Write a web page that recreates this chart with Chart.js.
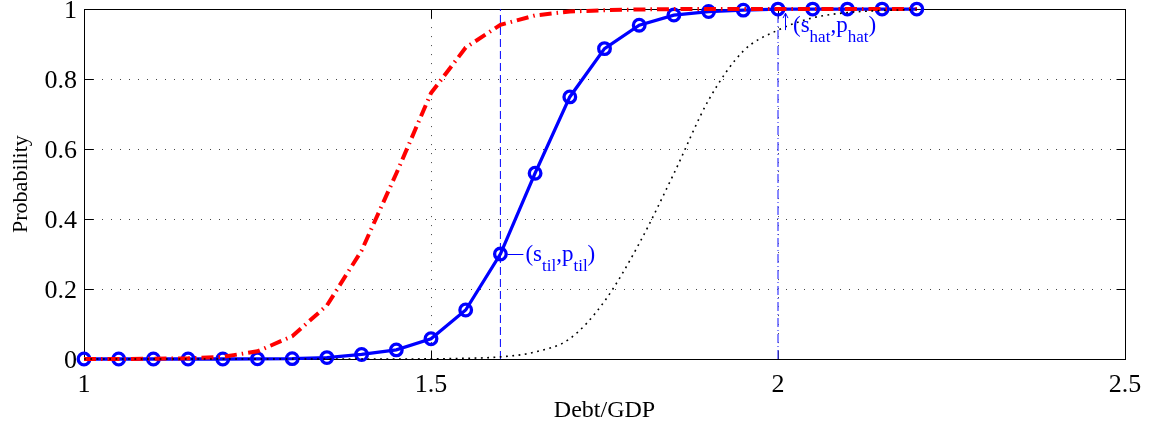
<!DOCTYPE html>
<html>
<head>
<meta charset="utf-8">
<script src="https://cdn.jsdelivr.net/npm/chart.js@4.4.1/dist/chart.umd.min.js"></script>
<style>
  html, body { margin: 0; padding: 0; background: #fff; }
  canvas { display: block; }
</style>
</head>
<body>
<canvas id="chart" width="1151" height="427"></canvas>
<script>
// Debt/GDP grid shared by the three probability curves
const debtRatio = [1.00, 1.05, 1.10, 1.15, 1.20, 1.25, 1.30, 1.35, 1.40, 1.45, 1.50, 1.55, 1.60,
                   1.65, 1.70, 1.75, 1.80, 1.85, 1.90, 1.95, 2.00, 2.05, 2.10, 2.15, 2.20];

// Solid blue curve with circle markers
const probBlue = [0, 0, 0, 0, 0, 0.0005, 0.001, 0.004, 0.013, 0.026, 0.058, 0.14, 0.30,
                  0.531, 0.749, 0.887, 0.954, 0.983, 0.993, 0.997, 1, 1, 1, 1, 1];

// Red dash-dot curve
const probRed = [0, 0, 0.001, 0.002, 0.006, 0.022, 0.065, 0.153, 0.31, 0.53, 0.76, 0.89, 0.955,
                 0.982, 0.993, 0.997, 0.999, 1, 1, 1, 1, 1, 1, 1, 1];

// Black dotted curve
const probBlack = [0, 0, 0, 0, 0, 0, 0, 0, 0, 0, 0.0005, 0.002, 0.006,
                   0.02, 0.058, 0.165, 0.33, 0.53, 0.74, 0.88, 0.94, 0.975, 0.99, 0.996, 0.999];

// Marked points (s, p)
const tilMark = [1.6, 0.3];
const hatMark = [2.0, 1.0];

// Axis ticks
const xTickValues = [1, 1.5, 2, 2.5];
const xTickLabels = ['1', '1.5', '2', '2.5'];
const yTickValues = [0, 0.2, 0.4, 0.6, 0.8, 1];
const yTickLabels = ['0', '0.2', '0.4', '0.6', '0.8', '1'];

const SERIF = '"Liberation Serif", "Times New Roman", serif';
const BLUE = '#0000ff';

const toPoints = (xs, ys) => xs.map((x, i) => ({ x: x, y: ys[i] }));
const vertical = (s) => [{ x: s, y: yTickValues[0] }, { x: s, y: yTickValues[yTickValues.length - 1] }];

// Axes box and inward tick marks, drawn beneath the curves
const framePlugin = {
  id: 'frame',
  beforeDatasetsDraw(chart) {
    const { ctx, chartArea: a, scales: { x, y } } = chart;
    const L = Math.round(a.left) + 0.5, R = Math.round(a.right) + 0.5;
    const T = Math.round(a.top) + 0.5, B = Math.round(a.bottom) + 0.5;
    const len = 9;
    ctx.save();
    ctx.strokeStyle = '#000';
    ctx.lineWidth = 1;
    ctx.strokeRect(L, T, R - L, B - T);
    ctx.beginPath();
    xTickValues.forEach(v => {
      const px = Math.round(x.getPixelForValue(v)) + 0.5;
      ctx.moveTo(px, B); ctx.lineTo(px, B - len);
      ctx.moveTo(px, T); ctx.lineTo(px, T + len);
    });
    yTickValues.forEach(v => {
      const py = Math.round(y.getPixelForValue(v)) + 0.5;
      ctx.moveTo(L, py); ctx.lineTo(L + len, py);
      ctx.moveTo(R, py); ctx.lineTo(R - len, py);
    });
    ctx.stroke();
    ctx.restore();
  }
};

// Text with subscripts: parts are [text, isSubscript]
function drawSubText(ctx, parts, x, y) {
  for (const [t, sub] of parts) {
    ctx.font = (sub ? '17px ' : '23px ') + SERIF;
    ctx.fillText(t, x, sub ? y + 10 : y);
    x += ctx.measureText(t).width;
  }
}

// Labels pointing at the two marked points
const notePlugin = {
  id: 'notes',
  afterDatasetsDraw(chart) {
    const { ctx, scales: { x, y } } = chart;
    ctx.save();
    ctx.fillStyle = BLUE;
    ctx.strokeStyle = BLUE;
    ctx.lineWidth = 1;
    ctx.textBaseline = 'alphabetic';
    ctx.textAlign = 'left';

    // (s_til, p_til) with a leader from the marker
    const tx = x.getPixelForValue(tilMark[0]);
    const ty = y.getPixelForValue(tilMark[1]);
    ctx.beginPath();
    ctx.moveTo(tx + 7, Math.round(ty) + 0.5);
    ctx.lineTo(tx + 23, Math.round(ty) + 0.5);
    ctx.stroke();
    drawSubText(ctx, [['(s', 0], ['til', 1], [',p', 0], ['til', 1], [')', 0]], tx + 25, ty + 7);

    // up arrow and (s_hat, p_hat)
    const hx = x.getPixelForValue(hatMark[0]);
    const hy = y.getPixelForValue(hatMark[1]);
    const ax = Math.round(hx + 7) + 0.5;
    ctx.beginPath();
    ctx.moveTo(ax, hy + 21);
    ctx.lineTo(ax, hy + 4);
    ctx.moveTo(ax - 2.5, hy + 9);
    ctx.lineTo(ax, hy + 4);
    ctx.lineTo(ax + 2.5, hy + 9);
    ctx.stroke();
    drawSubText(ctx, [['(s', 0], ['hat', 1], [',p', 0], ['hat', 1], [')', 0]], hx + 15, hy + 23);
    ctx.restore();
  }
};

const gridColor = (edgeValues) => (c) =>
  (c.tick && edgeValues.includes(c.tick.value)) ? 'rgba(0,0,0,0)' : '#444';

new Chart(document.getElementById('chart'), {
  type: 'line',
  data: {
    datasets: [
      {
        data: vertical(tilMark[0]),
        borderColor: BLUE, borderWidth: 1, borderDash: [8, 4],
        pointRadius: 0, order: 6, clip: false
      },
      {
        data: vertical(hatMark[0]),
        borderColor: 'rgba(70,70,255,0.8)', borderWidth: 1.6, borderDash: [9, 3, 1, 3],
        pointRadius: 0, order: 5, clip: false
      },
      {
        data: toPoints(debtRatio, probBlue),
        borderColor: BLUE, borderWidth: 3.3,
        pointRadius: 5.8, pointBorderWidth: 3.3,
        pointBorderColor: BLUE, pointBackgroundColor: 'rgba(0,0,0,0)',
        order: 3, clip: false
      },
      {
        data: toPoints(debtRatio, probRed),
        borderColor: '#ff0000', borderWidth: 4, borderDash: [12, 5, 1.5, 5],
        pointRadius: 0, order: 2, clip: false
      },
      {
        data: toPoints(debtRatio, probBlack),
        borderColor: '#000', borderWidth: 1.6, borderDash: [1.8, 4.5],
        cubicInterpolationMode: 'monotone',
        pointRadius: 0, order: 1, clip: false
      }
    ]
  },
  options: {
    responsive: false,
    animation: false,
    devicePixelRatio: 1,
    layout: { padding: { top: 9, right: 26, left: 0, bottom: 0 } },
    plugins: { legend: { display: false }, tooltip: { enabled: false } },
    elements: { line: { tension: 0, fill: false } },
    scales: {
      x: {
        type: 'linear',
        min: xTickValues[0],
        max: xTickValues[xTickValues.length - 1],
        afterBuildTicks: (s) => { s.ticks = xTickValues.map(v => ({ value: v })); },
        afterFit: (s) => { s.height = 68; s.paddingLeft = 0; s.paddingRight = 0; },
        grid: { drawTicks: false, color: gridColor([xTickValues[0], xTickValues[xTickValues.length - 1]]), lineWidth: 1 },
        border: { display: false, dash: [1, 8] },
        ticks: {
          padding: 11,
          maxRotation: 0,
          color: '#000',
          font: { family: SERIF, size: 26 },
          callback: (v) => xTickLabels[xTickValues.indexOf(v)]
        },
        title: {
          display: true, text: 'Debt/GDP', color: '#000',
          font: { family: SERIF, size: 24 },
          padding: { top: 0, bottom: 2 }
        }
      },
      y: {
        type: 'linear',
        min: yTickValues[0],
        max: yTickValues[yTickValues.length - 1],
        afterBuildTicks: (s) => { s.ticks = yTickValues.map(v => ({ value: v })); },
        afterFit: (s) => { s.width = 84; s.paddingTop = 0; s.paddingBottom = 0; },
        grid: { drawTicks: false, color: gridColor([yTickValues[0], yTickValues[yTickValues.length - 1]]), lineWidth: 1 },
        border: { display: false, dash: [1, 8] },
        ticks: {
          padding: 7,
          labelOffset: 2,
          color: '#000',
          font: { family: SERIF, size: 26 },
          callback: (v) => yTickLabels[yTickValues.indexOf(v)]
        },
        title: {
          display: true, text: 'Probability', color: '#000',
          font: { family: SERIF, size: 22 },
          padding: { top: 8, bottom: 0 }
        }
      }
    }
  },
  plugins: [framePlugin, notePlugin]
});
</script>
</body>
</html>
